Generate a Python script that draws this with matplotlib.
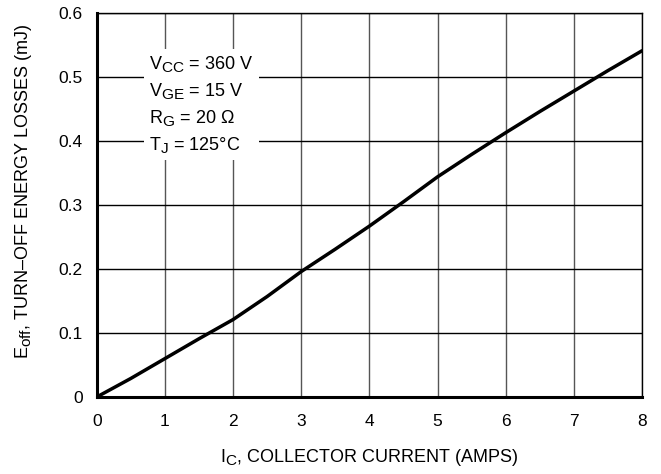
import matplotlib
matplotlib.use("Agg")
import matplotlib.pyplot as plt
import matplotlib._mathtext as mt

plt.rcParams['font.family'] = ['Liberation Sans', 'DejaVu Sans']
plt.rcParams['mathtext.fontset'] = 'custom'
plt.rcParams['mathtext.rm'] = 'Liberation Sans'
# subscripts in the datasheet are almost full size
mt.SHRINK_FACTOR = 0.85

# collector current (A) and turn-off energy (mJ)
ic = [0, 0.5, 1, 1.5, 2, 2.5, 3, 3.5, 4, 4.5, 5, 5.5, 6, 6.5, 7, 7.5, 8]
eoff = [0, 0.029, 0.060, 0.091, 0.121, 0.157, 0.196, 0.231, 0.267, 0.305,
        0.344, 0.379, 0.413, 0.446, 0.478, 0.510, 0.541]

xticks = [0, 1, 2, 3, 4, 5, 6, 7, 8]
yticks = [0, 0.1, 0.2, 0.3, 0.4, 0.5, 0.6]
ytick_labels = ['0', '0.1', '0.2', '0.3', '0.4', '0.5', '0.6']

conditions = ('$\\mathregular{V_{CC}}$ = 360 V\n'
              '$\\mathregular{V_{GE}}$ = 15 V\n'
              '$\\mathregular{R_{G}}$ = 20 \u03a9\n'
              '$\\mathregular{T_{J}}$ = 125\u00b0C')

fig = plt.figure(figsize=(6.61, 4.74), dpi=100)
ax = fig.add_axes([0.1463, 0.1624, 0.8250, 0.8102])

ax.plot(ic, eoff, color='black', lw=2.5, solid_capstyle='round', zorder=4)

ax.set_xlim(0, 8)
ax.set_ylim(0, 0.6)
ax.set_xticks(xticks)
ax.set_yticks(yticks)
ax.set_yticklabels(ytick_labels)
ax.tick_params(length=0, labelsize=12.5)
ax.tick_params(axis='x', pad=12)
ax.tick_params(axis='y', pad=10)

ax.grid(axis='x', color='#555555', lw=1.0)
ax.grid(axis='y', color='black', lw=1.0)

for s in ['top', 'right']:
    ax.spines[s].set_linewidth(1.0)
for s in ['left', 'bottom']:
    ax.spines[s].set_linewidth(2.2)
    ax.spines[s].set_zorder(5)

ax.text(0.77, 0.457, conditions, fontsize=13, va='center', ha='left',
        linespacing=1.45, zorder=3,
        bbox=dict(facecolor='white', edgecolor='none', pad=4))

ax.set_xlabel('$\\mathregular{I_{C}}$, COLLECTOR CURRENT (AMPS)', fontsize=13, labelpad=13)
ax.set_ylabel('$\\mathregular{E_{off}}$, TURN\u2013OFF ENERGY LOSSES (mJ)', fontsize=13)
ax.yaxis.set_label_coords(-0.115, 0.535)

fig.savefig('out.png', dpi=100)
